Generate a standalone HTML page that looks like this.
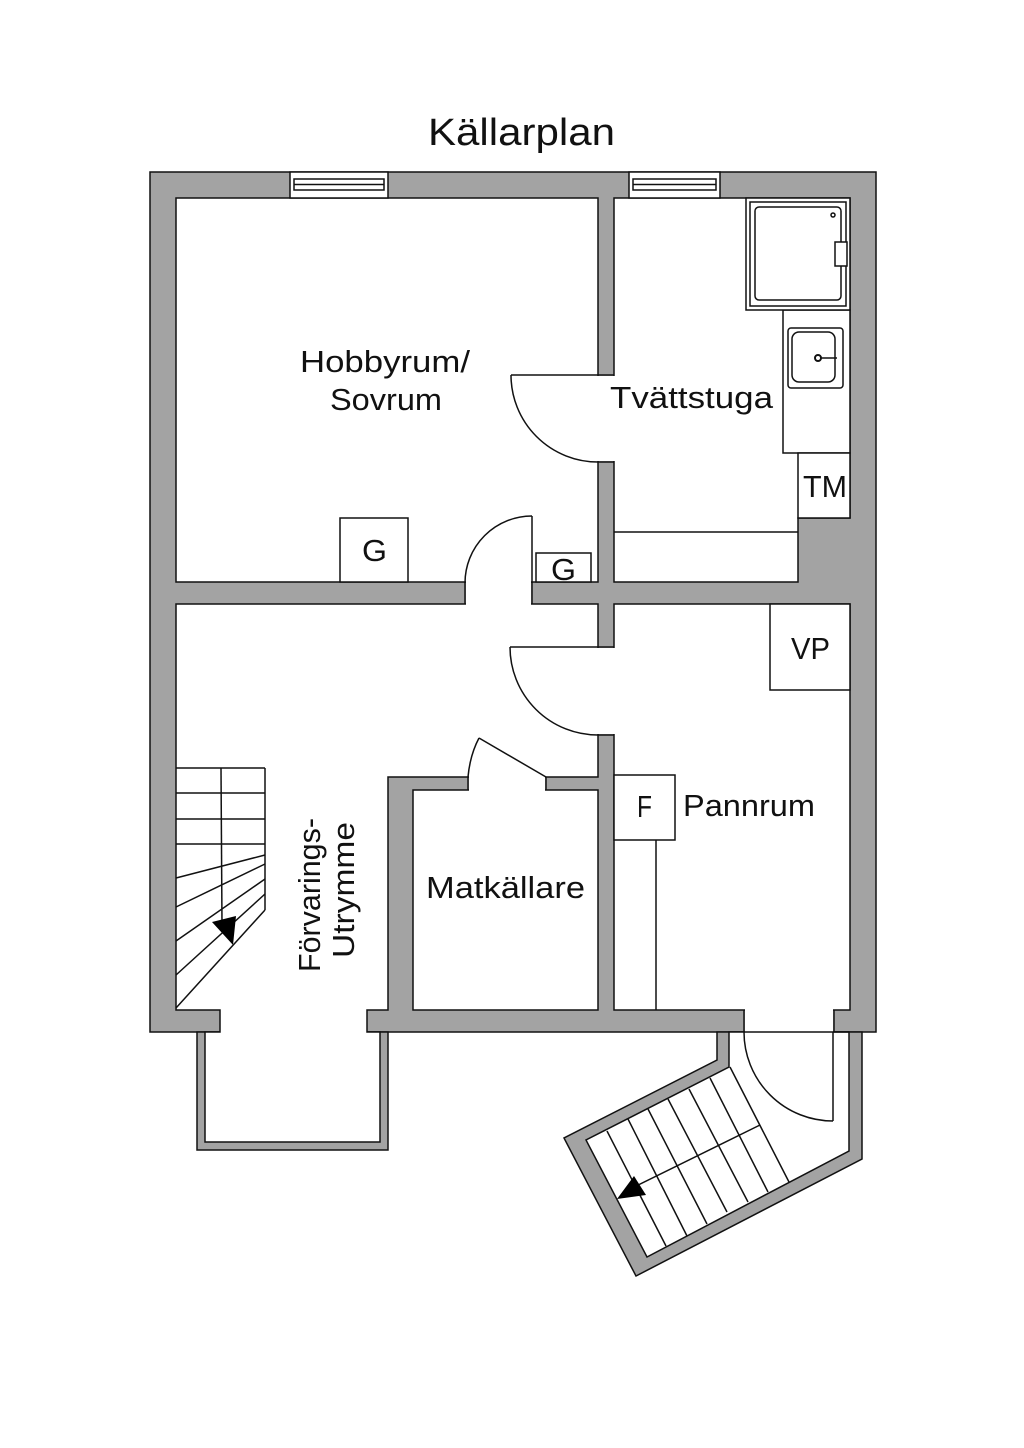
<!DOCTYPE html>
<html><head><meta charset="utf-8"><style>
html,body{margin:0;padding:0;background:#fff;}
svg{display:block;}
text{font-family:"Liberation Sans",sans-serif;fill:#111;}
</style></head><body>
<svg width="1024" height="1448" viewBox="0 0 1024 1448" xmlns="http://www.w3.org/2000/svg">
<rect width="1024" height="1448" fill="#fff"/>
<text x="428" y="145" font-size="38" textLength="187" lengthAdjust="spacingAndGlyphs">Källarplan</text>
<g stroke="#111" stroke-width="1.5">
<rect x="150" y="172" width="726" height="860" fill="#a3a3a3"/>
<rect x="197" y="1032" width="191" height="118" fill="#a3a3a3"/>
<polygon points="717,1032 717,1060 564,1138 636,1276 862,1159 862,1032" fill="#a3a3a3"/>
<rect x="176" y="198" width="422" height="384" fill="#fff"/>
<polygon points="614,198 850,198 850,518 798,518 798,582 614,582" fill="#fff"/>
<polygon points="176,604 598,604 598,777 388,777 388,1010 367,1010 367,1032 380,1032 380,1142 205,1142 205,1032 220,1032 220,1010 176,1010" fill="#fff"/>
<rect x="413" y="790" width="185" height="220" fill="#fff"/>
<rect x="614" y="604" width="236" height="406" fill="#fff"/>
<polygon points="729,1032 849,1032 849,1151 647,1257 586,1140 729,1067" fill="#fff"/>
</g>
<g fill="#fff">
<rect x="466" y="581" width="65" height="24"/>
<rect x="597" y="376" width="18" height="85"/>
<rect x="597" y="648" width="18" height="86"/>
<rect x="469" y="776" width="76" height="15"/>
<rect x="745" y="1009" width="88" height="24"/>
<rect x="290" y="172" width="98" height="26"/>
<rect x="629" y="172" width="91" height="26"/>
</g>
<g stroke="#111" stroke-width="1.5" fill="none">
<line x1="465" y1="582" x2="465" y2="604"/><line x1="532" y1="582" x2="532" y2="604"/>
<line x1="598" y1="375" x2="614" y2="375"/><line x1="598" y1="462" x2="614" y2="462"/>
<line x1="598" y1="647" x2="614" y2="647"/><line x1="598" y1="735" x2="614" y2="735"/>
<line x1="468" y1="777" x2="468" y2="790"/><line x1="546" y1="777" x2="546" y2="790"/>
<line x1="744" y1="1010" x2="744" y2="1032"/><line x1="834" y1="1010" x2="834" y2="1032"/>
<rect x="290" y="172" width="98" height="26"/>
<rect x="294" y="179" width="90" height="11"/><line x1="294" y1="184.5" x2="384" y2="184.5"/>
<rect x="629" y="172" width="91" height="26"/>
<rect x="633" y="179" width="83" height="11"/><line x1="633" y1="184.5" x2="716" y2="184.5"/>
<line x1="511" y1="375" x2="598" y2="375"/><path d="M511,375 A87,87 0 0 0 598,462"/>
<line x1="532" y1="516" x2="532" y2="583"/><path d="M532,516 A67,67 0 0 0 465,583"/>
<line x1="510" y1="647" x2="598" y2="647"/><path d="M510,647 A88,88 0 0 0 598,735"/>
<line x1="546" y1="777" x2="479" y2="738"/><path d="M479,738 Q470,755 468,777"/>
<line x1="744" y1="1032" x2="849" y2="1032"/>
<line x1="833" y1="1032" x2="833" y2="1121"/><path d="M744,1032 A89,89 0 0 0 833,1121"/>
<rect x="340" y="518" width="68" height="64" fill="#fff"/>
<rect x="536" y="553" width="55" height="29" fill="#fff"/>
<line x1="614" y1="532" x2="798" y2="532"/>
<rect x="783" y="310" width="67" height="143" fill="#fff"/>
<rect x="798" y="453" width="52" height="65" fill="#fff"/>
<rect x="746" y="198" width="104" height="112" fill="#fff"/>
<rect x="750" y="202" width="96" height="104"/>
<rect x="755" y="207" width="86" height="93" rx="4"/>
<circle cx="833" cy="215" r="2"/>
<rect x="835" y="242" width="12" height="24" fill="#fff"/>
<rect x="788" y="328" width="55" height="60" rx="3"/>
<rect x="792" y="332" width="43" height="50" rx="7"/>
<circle cx="818" cy="358" r="3" stroke-width="2"/><line x1="821" y1="358" x2="837" y2="358"/>
<rect x="770" y="604" width="80" height="86" fill="#fff"/>
<rect x="614" y="775" width="61" height="65" fill="#fff"/>
<line x1="656" y1="840" x2="656" y2="1010"/>
<line x1="176" y1="768" x2="265" y2="768"/>
<line x1="176" y1="793" x2="265" y2="793"/>
<line x1="176" y1="819" x2="265" y2="819"/>
<line x1="176" y1="844" x2="265" y2="844"/>
<line x1="265" y1="768" x2="265" y2="910"/>
<line x1="176" y1="878" x2="265" y2="855"/>
<line x1="176" y1="907" x2="265" y2="864"/>
<line x1="176" y1="941" x2="265" y2="879"/>
<line x1="176" y1="975" x2="265" y2="894"/>
<line x1="176" y1="1008" x2="265" y2="910"/>
<line x1="221" y1="768" x2="222" y2="925"/>
<line x1="607" y1="1131" x2="666" y2="1246"/>
<line x1="628" y1="1119" x2="687" y2="1236"/>
<line x1="648" y1="1109" x2="707" y2="1224"/>
<line x1="668" y1="1099" x2="727" y2="1212"/>
<line x1="689" y1="1089" x2="748" y2="1202"/>
<line x1="710" y1="1078" x2="768" y2="1192"/>
<line x1="730" y1="1067" x2="789" y2="1182"/>
<line x1="628" y1="1190" x2="760" y2="1125"/>
</g>
<polygon points="212,922 236,916 233,945" fill="#000"/>
<polygon points="617,1199 634,1176 646,1195" fill="#000"/>
<g font-size="31" lengthAdjust="spacingAndGlyphs">
<text x="300" y="372" textLength="170" lengthAdjust="spacingAndGlyphs">Hobbyrum/</text>
<text x="330" y="410" textLength="112" lengthAdjust="spacingAndGlyphs">Sovrum</text>
<text x="610" y="408" textLength="163" lengthAdjust="spacingAndGlyphs">Tvättstuga</text>
<text x="803" y="497" textLength="44" lengthAdjust="spacingAndGlyphs">TM</text>
<text x="362" y="561" textLength="25" lengthAdjust="spacingAndGlyphs">G</text>
<text x="551" y="580" textLength="25" lengthAdjust="spacingAndGlyphs">G</text>
<text x="791" y="659" textLength="39" lengthAdjust="spacingAndGlyphs">VP</text>
<text x="637" y="817" textLength="15" lengthAdjust="spacingAndGlyphs">F</text>
<text x="683" y="816" textLength="132" lengthAdjust="spacingAndGlyphs">Pannrum</text>
<text x="426" y="898" textLength="159" lengthAdjust="spacingAndGlyphs">Matkällare</text>
<text transform="translate(320,972) rotate(-90)" textLength="154" lengthAdjust="spacingAndGlyphs">Förvarings-</text>
<text transform="translate(354,958) rotate(-90)" textLength="136" lengthAdjust="spacingAndGlyphs">Utrymme</text>
</g>
</svg>
</body></html>
